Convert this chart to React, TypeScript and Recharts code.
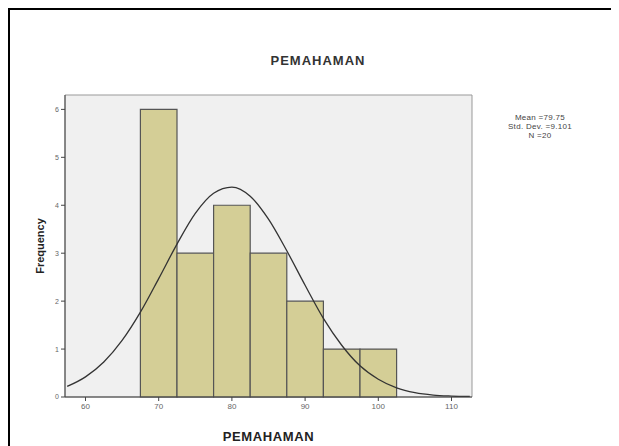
import {
  ComposedChart,
  Line,
  XAxis,
  YAxis,
  ReferenceArea,
} from 'recharts';

// histogram bins (lower edge, upper edge) and counts
const binStarts = [67.5, 72.5, 77.5, 82.5, 87.5, 92.5, 97.5];
const binEnds = [72.5, 77.5, 82.5, 87.5, 92.5, 97.5, 102.5];
const counts = [6, 3, 4, 3, 2, 1, 1];

// normal curve
const curveX = [57.5, 60, 62.5, 65, 67.5, 70, 72.5, 75, 77.5, 80, 82.5, 85, 87.5, 90, 92.5, 95, 97.5, 100, 102.5, 105, 107.5, 110, 112.5];
const curveY = [0.22, 0.42, 0.73, 1.18, 1.77, 2.47, 3.19, 3.83, 4.25, 4.38, 4.19, 3.71, 3.05, 2.33, 1.64, 1.08, 0.65, 0.37, 0.19, 0.09, 0.04, 0.02, 0.01];

const xTicks = [60, 70, 80, 90, 100, 110];
const yTicks = [0, 1, 2, 3, 4, 5, 6];
const stats = ['Mean =79.75', 'Std. Dev. =9.101', 'N =20'];

const curve = curveX.map((x, i) => ({ x, y: curveY[i] }));

const font = '"Liberation Sans", Arial, sans-serif';

export default function App() {
  return (
    <div
      style={{
        position: 'relative',
        width: 611,
        height: 438,
        borderTop: '2px solid #000',
        borderLeft: '2px solid #000',
        boxSizing: 'border-box',
        fontFamily: font,
      }}
    >
      <div
        style={{
          position: 'absolute',
          left: 0,
          width: 616,
          top: 43,
          textAlign: 'center',
          fontSize: 13,
          letterSpacing: 1,
          fontWeight: 'bold',
          color: '#333',
        }}
      >
        PEMAHAMAN
      </div>
      <div
        style={{
          position: 'absolute',
          left: 480,
          width: 100,
          top: 103,
          textAlign: 'center',
          fontSize: 8,
          letterSpacing: 0.3,
          lineHeight: '9px',
          color: '#444',
        }}
      >
        {stats.map((s) => (
          <div key={s}>{s}</div>
        ))}
      </div>
      <div style={{ position: 'absolute', left: -2, top: -2 }}>
        <ComposedChart
          width={611}
          height={440}
          margin={{ top: 87, right: 147, left: 37, bottom: 21 }}
        >
          <XAxis
            type="number"
            dataKey="x"
            domain={[57.2, 112.8]}
            ticks={xTicks}
            allowDataOverflow
            stroke="#444"
            tickLine={{ stroke: '#444' }}
            tickSize={4}
            tick={{ fontSize: 8, fill: '#666', fontFamily: font }}
            height={30}
            label={{
              value: 'PEMAHAMAN',
              position: 'insideBottom',
              offset: -14,
              style: { fontSize: 13, letterSpacing: 0.6, fontWeight: 'bold', fill: '#222', fontFamily: font },
            }}
          />
          <YAxis
            type="number"
            domain={[0, 6.3]}
            ticks={yTicks}
            allowDataOverflow
            stroke="#444"
            tickSize={4}
            tick={{ fontSize: 7, fill: '#666', fontFamily: font }}
            width={20}
            label={{
              value: 'Frequency',
              angle: -90,
              position: 'insideLeft',
              offset: -5,
              style: { fontSize: 11, fontWeight: 'bold', fill: '#222', fontFamily: font, textAnchor: 'middle' },
            }}
          />
          <ReferenceArea
            x1={57.2}
            x2={112.8}
            y1={0}
            y2={6.3}
            fill="#f0f0f0"
            fillOpacity={1}
            stroke="#999"
          />
          {counts.map((c, i) => (
            <ReferenceArea
              key={i}
              x1={binStarts[i]}
              x2={binEnds[i]}
              y1={0}
              y2={c}
              fill="#d4ce96"
              fillOpacity={1}
              stroke="#555"
              strokeWidth={1.2}
            />
          ))}
          <Line
            data={curve}
            dataKey="y"
            type="monotone"
            stroke="#333"
            strokeWidth={1.3}
            dot={false}
            isAnimationActive={false}
          />
        </ComposedChart>
      </div>
    </div>
  );
}
